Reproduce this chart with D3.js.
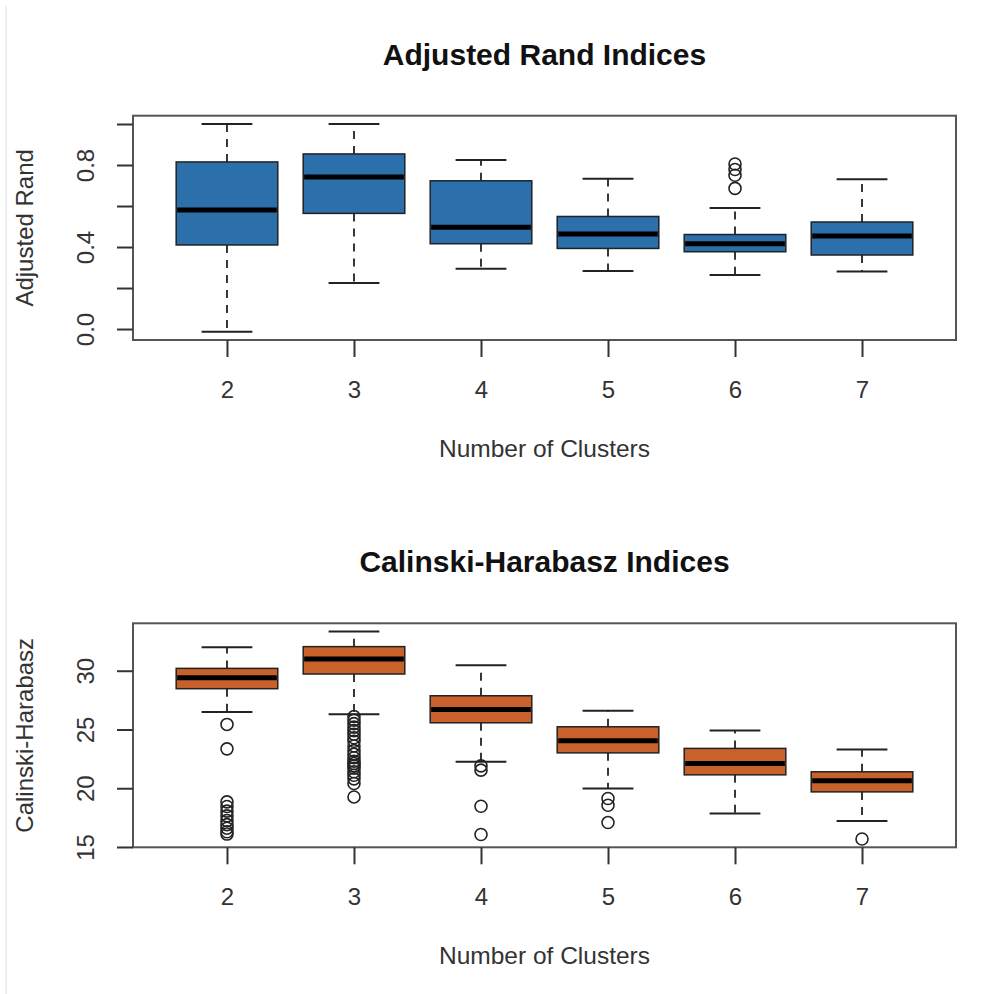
<!DOCTYPE html>
<html>
<head>
<meta charset="utf-8">
<script src="https://cdn.jsdelivr.net/npm/d3@7"></script>
<style>
  html, body { margin: 0; padding: 0; background: #fff; }
  svg { display: block; }
  text { font-family: "Liberation Sans", Arial, sans-serif; }
</style>
</head>
<body>
<svg id="chart" width="1006" height="994"></svg>
<script>
// ---------- data ----------
const clusters = ["2", "3", "4", "5", "6", "7"];

// Adjusted Rand Indices (boxplot statistics)
const arWhiskerLow  = [-0.013, 0.224, 0.294, 0.283, 0.263, 0.281];
const arQ1          = [0.410, 0.564, 0.416, 0.393, 0.377, 0.361];
const arMedian      = [0.580, 0.741, 0.496, 0.463, 0.416, 0.454];
const arQ3          = [0.815, 0.854, 0.723, 0.549, 0.461, 0.522];
const arWhiskerHigh = [1.000, 1.000, 0.824, 0.733, 0.590, 0.730];
const arOutliers    = [[], [], [], [], [0.805, 0.778, 0.750, 0.686], []];
const arTicks       = [0.0, 0.2, 0.4, 0.6, 0.8, 1.0];
const arTickLabels  = ["0.0", "", "0.4", "", "0.8", ""];

// Calinski-Harabasz Indices (boxplot statistics)
const chWhiskerLow  = [26.48, 26.29, 22.25, 19.98, 17.85, 17.22];
const chQ1          = [28.47, 29.72, 25.57, 23.01, 21.14, 19.69];
const chMedian      = [29.40, 31.00, 26.71, 24.04, 22.10, 20.63];
const chQ3          = [30.20, 32.05, 27.87, 25.23, 23.39, 21.40];
const chWhiskerHigh = [32.00, 33.33, 30.46, 26.60, 24.92, 23.30];
const chOutliers    = [
  [25.43, 23.35, 18.84, 18.45, 18.05, 17.65, 17.25, 16.90, 16.60, 16.30, 16.10],
  [26.10, 25.80, 25.50, 25.20, 24.90, 24.60, 24.30, 24.00, 23.60, 23.20, 22.90,
   22.60, 22.30, 22.10, 21.90, 21.70, 21.40, 21.10, 20.80, 20.40, 19.26],
  [21.90, 21.54, 18.47, 16.06],
  [19.13, 18.55, 17.08],
  [],
  [15.68]
];
const chTicks       = [15, 20, 25, 30];
const chTickLabels  = ["15", "20", "25", "30"];

// ---------- drawing ----------
const svg = d3.select("#chart");
svg.append("rect").attr("x", 0).attr("y", 0).attr("width", 1006).attr("height", 994).attr("fill", "#fff");
svg.append("rect").attr("x", 5).attr("y", 6).attr("width", 2).attr("height", 988).attr("fill", "#efefef");

const plotLeft = 133, plotRight = 956;

function drawPanel(o) {
  const g = svg.append("g");
  const n = clusters.length;
  const x = d3.scaleLinear()
    .domain([0.5 - 0.04 * n, n + 0.5 + 0.04 * n])
    .range([plotLeft, plotRight]);
  const allVals = o.low.concat(o.high, o.outliers.flat());
  const lo = d3.min(allVals), hi = d3.max(allVals);
  const pad = 0.04 * (hi - lo);
  const y = d3.scaleLinear().domain([lo - pad, hi + pad]).range([o.bottom, o.top]);

  const boxHalf = (x(1.4) - x(1));
  const capHalf = boxHalf / 2;

  // frame
  g.append("rect")
    .attr("x", plotLeft).attr("y", o.top)
    .attr("width", plotRight - plotLeft).attr("height", o.bottom - o.top)
    .attr("fill", "none").attr("stroke", "#555").attr("stroke-width", 2);

  clusters.forEach((c, i) => {
    const cx = x(i + 1);
    // whiskers
    g.append("line").attr("x1", cx).attr("x2", cx)
      .attr("y1", y(o.q3[i])).attr("y2", y(o.high[i]))
      .attr("stroke", "#222").attr("stroke-width", 1.8).attr("stroke-dasharray", "8,7");
    g.append("line").attr("x1", cx).attr("x2", cx)
      .attr("y1", y(o.q1[i])).attr("y2", y(o.low[i]))
      .attr("stroke", "#222").attr("stroke-width", 1.8).attr("stroke-dasharray", "8,7");
    // caps
    [o.high[i], o.low[i]].forEach(v => {
      g.append("line").attr("x1", cx - capHalf).attr("x2", cx + capHalf)
        .attr("y1", y(v)).attr("y2", y(v))
        .attr("stroke", "#222").attr("stroke-width", 2);
    });
    // box
    g.append("rect")
      .attr("x", cx - boxHalf).attr("y", y(o.q3[i]))
      .attr("width", 2 * boxHalf).attr("height", y(o.q1[i]) - y(o.q3[i]))
      .attr("fill", o.color).attr("stroke", "#222").attr("stroke-width", 1.5);
    // median
    g.append("line").attr("x1", cx - boxHalf + 1).attr("x2", cx + boxHalf - 1)
      .attr("y1", y(o.median[i])).attr("y2", y(o.median[i]))
      .attr("stroke", "#000").attr("stroke-width", 5);
    // outliers
    o.outliers[i].forEach(v => {
      g.append("circle").attr("cx", cx).attr("cy", y(v)).attr("r", 6)
        .attr("fill", "none").attr("stroke", "#222").attr("stroke-width", 1.6);
    });
  });

  // x axis
  const xAxis = d3.axisBottom(x)
    .tickValues(clusters.map((c, i) => i + 1))
    .tickFormat((d, i) => clusters[i])
    .tickSize(17).tickPadding(24);
  const gx = g.append("g").attr("transform", `translate(0,${o.bottom})`).call(xAxis);
  gx.select(".domain").remove();
  gx.selectAll(".tick line").attr("stroke", "#333").attr("stroke-width", 2);
  gx.selectAll(".tick text").attr("font-size", 24).attr("fill", "#333")
    .attr("font-family", "Liberation Sans, Arial, sans-serif");

  // y axis
  const yAxis = d3.axisLeft(y).tickValues(o.ticks)
    .tickFormat((d, i) => o.tickLabels[i]).tickSize(16);
  const gy = g.append("g").attr("transform", `translate(${plotLeft},0)`).call(yAxis);
  gy.select(".domain").remove();
  gy.selectAll(".tick line").attr("stroke", "#333").attr("stroke-width", 2);
  gy.selectAll(".tick text")
    .attr("x", null).attr("dy", null)
    .attr("transform", "translate(-39,0) rotate(-90)")
    .attr("text-anchor", "middle")
    .attr("font-size", 24).attr("fill", "#333")
    .attr("font-family", "Liberation Sans, Arial, sans-serif");

  // titles
  g.append("text").attr("x", (plotLeft + plotRight) / 2).attr("y", o.titleY)
    .attr("text-anchor", "middle").attr("font-size", 30).attr("font-weight", "bold")
    .attr("fill", "#111").text(o.title);
  g.append("text").attr("x", (plotLeft + plotRight) / 2).attr("y", o.bottom + 117)
    .attr("text-anchor", "middle").attr("font-size", 24.5).attr("fill", "#333")
    .text("Number of Clusters");
  g.append("text")
    .attr("transform", `translate(33,${(o.top + o.bottom) / 2}) rotate(-90)`)
    .attr("text-anchor", "middle").attr("font-size", 24).attr("fill", "#333")
    .text(o.ylabel);
}

drawPanel({
  top: 115.7, bottom: 340, titleY: 65,
  title: "Adjusted Rand Indices", ylabel: "Adjusted Rand",
  low: arWhiskerLow, q1: arQ1, median: arMedian, q3: arQ3, high: arWhiskerHigh,
  outliers: arOutliers, ticks: arTicks, tickLabels: arTickLabels, color: "#2b6fab"
});

drawPanel({
  top: 623.3, bottom: 847.3, titleY: 572,
  title: "Calinski-Harabasz Indices", ylabel: "Calinski-Harabasz",
  low: chWhiskerLow, q1: chQ1, median: chMedian, q3: chQ3, high: chWhiskerHigh,
  outliers: chOutliers, ticks: chTicks, tickLabels: chTickLabels, color: "#c8612a"
});
</script>
</body>
</html>
